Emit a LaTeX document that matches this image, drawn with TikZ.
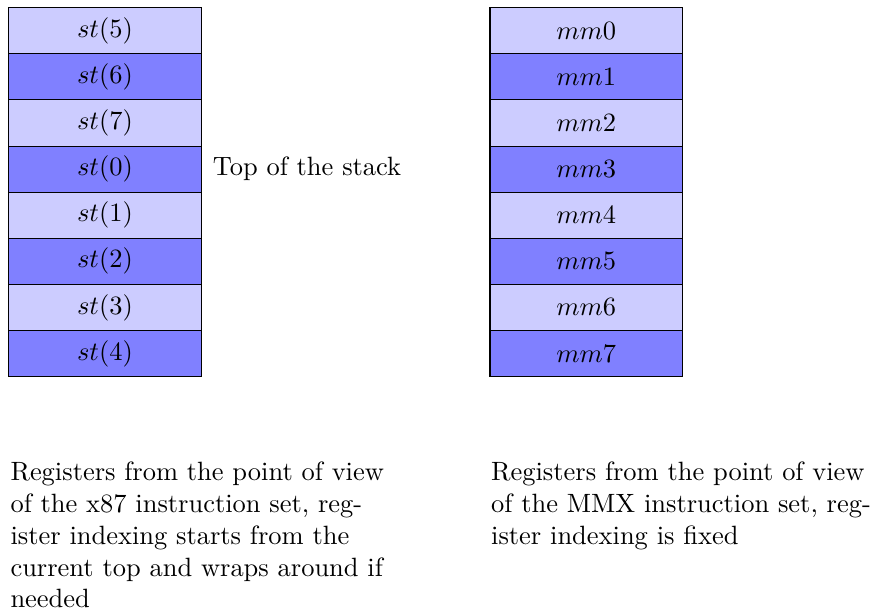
\documentclass[tikz,border=0pt]{standalone}
\begin{document}
\begin{tikzpicture}[x=1pt,y=1pt,
  reg/.style={draw=black, line width=0.4pt, minimum width=72.8pt, minimum height=17.43pt, inner sep=0pt, anchor=center},
  light/.style={reg, fill=blue!20},
  dark/.style={reg, fill=blue!50},
  caption/.style={text width=142.26pt, align=left, inner sep=0pt, anchor=north west}]
\useasboundingbox (0,0) rectangle (329.6,-230.9);
% left stack (x87 view)
\node[light] (s5) at (39.68,-11.63) {$st(5)$};
\node[dark]  (s6) at (39.68,-29.06) {$st(6)$};
\node[light] (s7) at (39.68,-46.49) {$st(7)$};
\node[dark]  (s0) at (39.68,-63.92) {$st(0)$};
\node[light] (s1) at (39.68,-81.35) {$st(1)$};
\node[dark]  (s2) at (39.68,-98.78) {$st(2)$};
\node[light] (s3) at (39.68,-116.21) {$st(3)$};
\node[dark]  (s4) at (39.68,-133.64) {$st(4)$};
\node[anchor=west, inner xsep=4pt] (top) at (s0.east) {Top of the stack};
% right stack (MMX view)
\node[light] (m0) at (221.6,-11.63) {$mm0$};
\node[dark]  (m1) at (221.6,-29.06) {$mm1$};
\node[light] (m2) at (221.6,-46.49) {$mm2$};
\node[dark]  (m3) at (221.6,-63.92) {$mm3$};
\node[light] (m4) at (221.6,-81.35) {$mm4$};
\node[dark]  (m5) at (221.6,-98.78) {$mm5$};
\node[light] (m6) at (221.6,-116.21) {$mm6$};
\node[dark]  (m7) at (221.6,-133.64) {$mm7$};
% captions
\node[caption] (capl) at (3.78,-174.5) {Registers from the point of view of the x87 instruction set, register indexing starts from the current top and wraps around if needed};
\node[caption, text width=146pt] (capr) at (185.45,-174.5) {Registers from the point of view of the MMX instruction set, reg\-ister indexing is fixed};
\end{tikzpicture}
\end{document}
